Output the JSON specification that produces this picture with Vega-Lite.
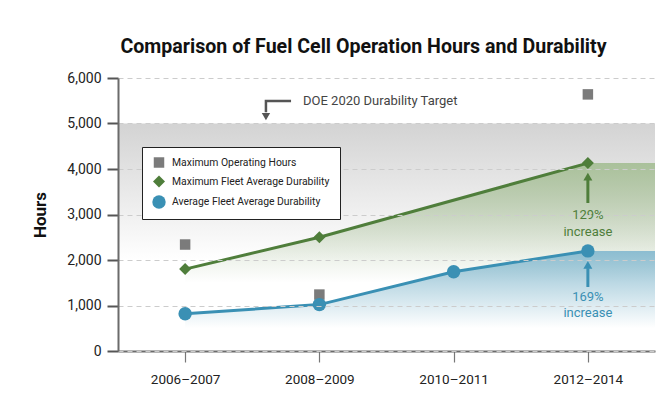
{
  "$schema": "https://vega.github.io/schema/vega-lite/v6.json",
  "width": 537,
  "height": 273,
  "autosize": {"type": "none"},
  "padding": {"left": 118, "top": 78, "right": 15, "bottom": 57},
  "background": "#ffffff",
  "config": {
    "view": {"stroke": null},
    "font": "Roboto, 'Liberation Sans', sans-serif",
    "legend": {
      "orient": "none",
      "legendX": 24,
      "legendY": 69,
      "padding": 10,
      "rowPadding": 7,
      "symbolSize": 130,
      "symbolStrokeWidth": 0,
      "labelFontSize": 10.4,
      "labelLimit": 300,
      "labelColor": "#222222",
      "labelOffset": 6,
      "strokeColor": "#222222",
      "fillColor": "#ffffff"
    }
  },
  "title": {
    "text": "Comparison of Fuel Cell Operation Hours and Durability",
    "fontSize": 19.6,
    "fontWeight": "bold",
    "color": "#111111",
    "anchor": "middle",
    "frame": "group",
    "dx": -23,
    "offset": -2,
    "baseline": "alphabetic"
  },
  "datasets": {
    "series": [
      {"period": "2006–2007", "x": 0, "series": "Maximum Operating Hours", "hours": 2340},
      {"period": "2008–2009", "x": 1, "series": "Maximum Operating Hours", "hours": 1240},
      {"period": "2012–2014", "x": 3, "series": "Maximum Operating Hours", "hours": 5640},
      {"period": "2006–2007", "x": 0, "series": "Maximum Fleet Average Durability", "hours": 1800},
      {"period": "2008–2009", "x": 1, "series": "Maximum Fleet Average Durability", "hours": 2500},
      {"period": "2012–2014", "x": 3, "series": "Maximum Fleet Average Durability", "hours": 4130},
      {"period": "2006–2007", "x": 0, "series": "Average Fleet Average Durability", "hours": 820},
      {"period": "2008–2009", "x": 1, "series": "Average Fleet Average Durability", "hours": 1020},
      {"period": "2010–2011", "x": 2, "series": "Average Fleet Average Durability", "hours": 1740},
      {"period": "2012–2014", "x": 3, "series": "Average Fleet Average Durability", "hours": 2200}
    ],
    "target": [{"x": -0.5, "x_end": 3.5, "hours": 5000}],
    "green_fill": [
      {"x": 0, "hours": 1800},
      {"x": 1, "hours": 2500},
      {"x": 3, "hours": 4130},
      {"x": 3.5, "hours": 4130}
    ],
    "blue_fill": [
      {"x": 0, "hours": 820},
      {"x": 1, "hours": 1020},
      {"x": 2, "hours": 1740},
      {"x": 3, "hours": 2200},
      {"x": 3.5, "hours": 2200}
    ]
  },
  "encoding": {
    "x": {
      "field": "x",
      "type": "quantitative",
      "scale": {"domain": [-0.5, 3.5], "nice": false, "zero": false},
      "axis": {
        "values": [0, 1, 2, 3],
        "labelExpr": "['2006–2007','2008–2009','2010–2011','2012–2014'][datum.value]",
        "title": null,
        "grid": false,
        "tickSize": 11,
        "tickColor": "#777777",
        "tickWidth": 1.2,
        "domainColor": "#6b6b6b",
        "domainWidth": 2,
        "labelFontSize": 13.5,
        "labelColor": "#222222",
        "labelPadding": 10
      }
    },
    "y": {
      "field": "hours",
      "type": "quantitative",
      "scale": {"domain": [0, 6000], "nice": false},
      "axis": {
        "values": [0, 1000, 2000, 3000, 4000, 5000, 6000],
        "format": ",.0f",
        "title": "Hours",
        "titleFontSize": 17,
        "titleFontWeight": "bold",
        "titleColor": "#111111",
        "titlePadding": 17,
        "labelFontSize": 14,
        "labelColor": "#222222",
        "labelPadding": 6,
        "tickSize": 11,
        "tickColor": "#555555",
        "tickWidth": 2,
        "domainColor": "#6b6b6b",
        "domainWidth": 2,
        "grid": true,
        "gridColor": "#cccccc",
        "gridDash": [5, 4],
        "gridWidth": 1,
        "zindex": 1
      }
    }
  },
  "layer": [
    {
      "data": {"name": "target"},
      "mark": {
        "type": "rect",
        "fill": {
          "gradient": "linear", "x1": 0, "y1": 0, "x2": 0, "y2": 1,
          "stops": [
            {"offset": 0, "color": "#d3d3d3"},
            {"offset": 1, "color": "#ffffff"}
          ]
        }
      },
      "encoding": {"x2": {"field": "x_end"}, "y2": {"datum": 2000}}
    },
    {
      "data": {"name": "green_fill"},
      "mark": {
        "type": "area",
        "fill": {
          "gradient": "linear", "x1": 0, "y1": 0, "x2": 0, "y2": 1,
          "stops": [
            {"offset": 0, "color": "rgba(170,193,155,1)"},
            {"offset": 1, "color": "rgba(170,193,155,0)"}
          ]
        }
      },
      "encoding": {"y2": {"datum": 1500}}
    },
    {
      "data": {"name": "blue_fill"},
      "mark": {
        "type": "area",
        "fill": {
          "gradient": "linear", "x1": 0, "y1": 0, "x2": 0, "y2": 1,
          "stops": [
            {"offset": 0, "color": "rgba(140,189,209,1)"},
            {"offset": 1, "color": "rgba(140,189,209,0)"}
          ]
        }
      },
      "encoding": {"y2": {"datum": 500}}
    },
    {
      "data": {"name": "series"},
      "transform": [{"filter": "datum.series === 'Maximum Fleet Average Durability'"}],
      "mark": {"type": "line", "stroke": "#4f7e3b", "strokeWidth": 3}
    },
    {
      "data": {"name": "series"},
      "transform": [{"filter": "datum.series === 'Average Fleet Average Durability'"}],
      "mark": {"type": "line", "stroke": "#3a90b4", "strokeWidth": 3}
    },
    {
      "data": {"name": "series"},
      "mark": {"type": "point", "filled": true, "opacity": 1, "strokeWidth": 0},
      "encoding": {
        "color": {
          "field": "series",
          "type": "nominal",
          "title": null,
          "scale": {
            "domain": ["Maximum Operating Hours", "Maximum Fleet Average Durability", "Average Fleet Average Durability"],
            "range": ["#7b7b7b", "#4f7e3b", "#3a90b4"]
          },
          "legend": {"title": null, "zindex": 2}
        },
        "shape": {
          "field": "series",
          "type": "nominal",
          "title": null,
          "scale": {
            "domain": ["Maximum Operating Hours", "Maximum Fleet Average Durability", "Average Fleet Average Durability"],
            "range": ["square", "diamond", "circle"]
          }
        },
        "size": {
          "field": "series",
          "type": "nominal",
          "scale": {
            "domain": ["Maximum Operating Hours", "Maximum Fleet Average Durability", "Average Fleet Average Durability"],
            "range": [110, 180, 150]
          },
          "legend": null
        }
      }
    },
    {
      "data": {"values": [
        {"x": 0.789, "hours": 5495, "i": 0},
        {"x": 0.602, "hours": 5495, "i": 1},
        {"x": 0.602, "hours": 5250, "i": 2}
      ]},
      "mark": {"type": "line", "stroke": "#555555", "strokeWidth": 2.5},
      "encoding": {"order": {"field": "i"}}
    },
    {
      "data": {"values": [{"x": 0.602, "hours": 5150}]},
      "mark": {"type": "point", "shape": "triangle-down", "filled": true, "color": "#555555", "size": 70, "opacity": 1}
    },
    {
      "data": {"values": [{"x": 3, "hours": 3253, "hours_end": 3760}]},
      "mark": {"type": "rule", "stroke": "#4f7e3b", "strokeWidth": 3},
      "encoding": {"y2": {"field": "hours_end"}}
    },
    {
      "data": {"values": [{"x": 3, "hours": 3830}]},
      "mark": {"type": "point", "shape": "triangle-up", "filled": true, "color": "#4f7e3b", "size": 80, "opacity": 1}
    },
    {
      "data": {"values": [{"x": 3, "hours": 1407, "hours_end": 1820}]},
      "mark": {"type": "rule", "stroke": "#3a90b4", "strokeWidth": 3},
      "encoding": {"y2": {"field": "hours_end"}}
    },
    {
      "data": {"values": [{"x": 3, "hours": 1895}]},
      "mark": {"type": "point", "shape": "triangle-up", "filled": true, "color": "#3a90b4", "size": 80, "opacity": 1}
    },
    {
      "data": {"values": [{"x": 0.878, "hours": 5495, "label": "DOE  2020 Durability Target"}]},
      "mark": {"type": "text", "align": "left", "baseline": "middle", "fontSize": 13, "color": "#444444"},
      "encoding": {"text": {"field": "label"}}
    },
    {
      "data": {"values": [
        {"x": 3, "hours": 2989, "label": "129%"},
        {"x": 3, "hours": 2615, "label": "increase"}
      ]},
      "mark": {"type": "text", "align": "center", "baseline": "middle", "fontSize": 13, "color": "#4f7e3b"},
      "encoding": {"text": {"field": "label"}}
    },
    {
      "data": {"values": [
        {"x": 3, "hours": 1187, "label": "169%"},
        {"x": 3, "hours": 835, "label": "increase"}
      ]},
      "mark": {"type": "text", "align": "center", "baseline": "middle", "fontSize": 13, "color": "#3a90b4"},
      "encoding": {"text": {"field": "label"}}
    }
  ]
}
